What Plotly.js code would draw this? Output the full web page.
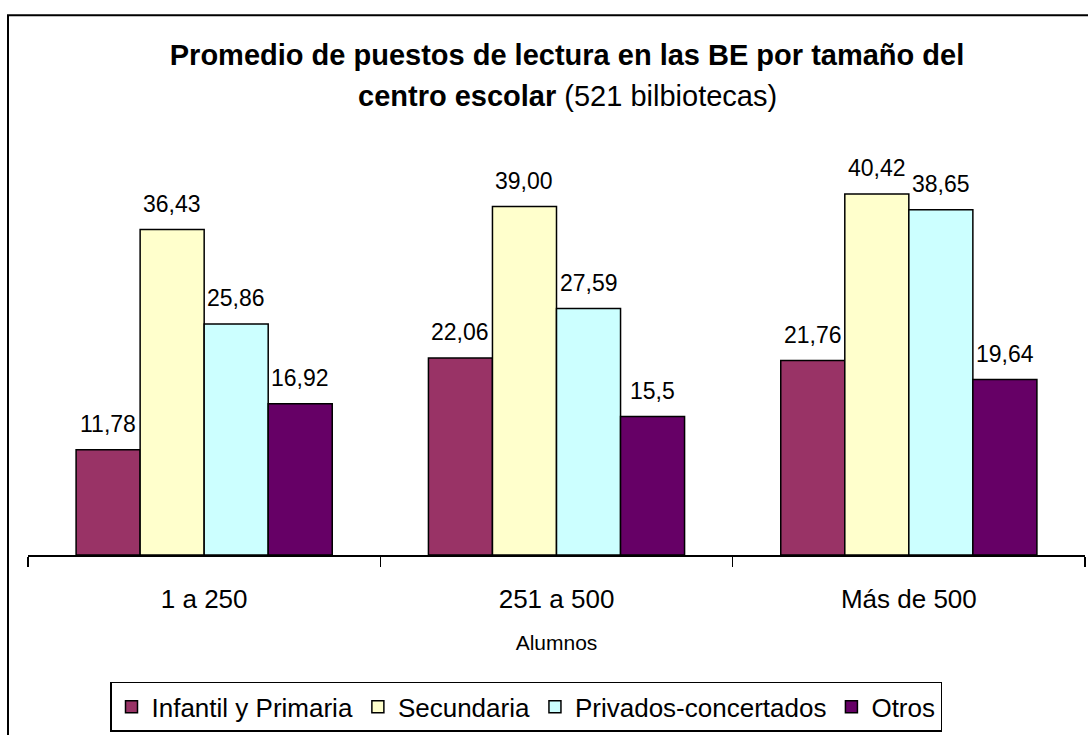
<!DOCTYPE html>
<html>
<head>
<meta charset="utf-8">
<script src="https://cdn.plot.ly/plotly-3.0.1.min.js"></script>
<style>html,body{margin:0;padding:0;background:#fff;}#chart{width:1088px;height:735px;}</style>
</head>
<body>
<div id="chart"></div>
<script>
const categories = ["1 a 250", "251 a 500", "Más de 500"];
const seriesNames = ["Infantil y Primaria", "Secundaria", "Privados-concertados", "Otros"];
const infantil = [11.78, 22.06, 21.76];
const secundaria = [36.43, 39.00, 40.42];
const privados = [25.86, 27.59, 38.65];
const otros = [16.92, 15.5, 19.64];
const labelsInfantil = ["11,78", "22,06", "21,76"];
const labelsSecundaria = ["36,43", "39,00", "40,42"];
const labelsPrivados = ["25,86", "27,59", "38,65"];
const labelsOtros = ["16,92", "15,5", "19,64"];
const colors = ["#993366", "#FFFFCC", "#CCFFFF", "#660066"];

const allValues = [infantil, secundaria, privados, otros];
const allLabels = [labelsInfantil, labelsSecundaria, labelsPrivados, labelsOtros];
const FONT = "Liberation Sans, Arial, sans-serif";

const bargap = 0.273;
const nSeries = allValues.length;
const barW = (1 - bargap) / nSeries;

const traces = allValues.map((vals, s) => ({
  type: "bar",
  name: seriesNames[s],
  x: categories,
  y: vals,
  marker: {color: colors[s], line: {color: "#000", width: 1.5}},
  hoverinfo: "skip"
}));

const annotations = [];
allValues.forEach((vals, s) => {
  vals.forEach((v, i) => {
    annotations.push({
      xref: "x", yref: "y",
      x: i + (s - (nSeries - 1) / 2) * barW,
      y: v,
      text: allLabels[s][i],
      showarrow: false,
      yanchor: "middle",
      yshift: 26,
      font: {family: FONT, size: 23, color: "#000"}
    });
  });
});
annotations.push({
  xref: "paper", yref: "paper",
  x: (567 - 28) / 1057, y: (559 - 95) / 406,
  xanchor: "center", yanchor: "middle",
  text: "<b>centro escolar</b> (521 bilbiotecas)",
  showarrow: false,
  font: {family: FONT, size: 29, color: "#000"}
});

const layout = {
  width: 1088, height: 735,
  paper_bgcolor: "#fff", plot_bgcolor: "#fff",
  margin: {l: 28, r: 3, t: 153, b: 176, pad: 0},
  title: {
    text: "<b>Promedio de puestos de lectura en las BE por tamaño del</b>",
    xref: "paper", x: (567 - 28) / 1057, xanchor: "center",
    yref: "container", y: 1 - 55 / 735, yanchor: "middle",
    font: {family: FONT, size: 29, color: "#000"}
  },
  barmode: "group",
  bargap: bargap,
  bargroupgap: 0,
  showlegend: true,
  legend: {
    orientation: "h",
    x: (526 - 28) / 1057, xanchor: "center",
    y: (559 - 687) / 406, yanchor: "top",
    bordercolor: "#000", borderwidth: 1.5,
    bgcolor: "#fff",
    font: {family: FONT, size: 26, color: "#000"},
    itemwidth: 30,
    traceorder: "normal"
  },
  xaxis: {
    type: "category",
    showline: true, linecolor: "#000", linewidth: 1.5,
    ticks: "outside", tickson: "boundaries", ticklen: 10, tickcolor: "#000", tickwidth: 1.5,
    ticklabelstandoff: 20,
    tickfont: {family: FONT, size: 26, color: "#000"},
    title: {text: "Alumnos", font: {family: FONT, size: 21, color: "#000"}, standoff: 22},
    showgrid: false, zeroline: false, fixedrange: true
  },
  yaxis: {
    range: [0, 45],
    visible: false, showgrid: false, zeroline: false, fixedrange: true
  },
  annotations: annotations,
  shapes: [{
    type: "rect", xref: "paper", yref: "paper",
    x0: (8 - 28) / 1057, x1: 1.05,
    y0: -0.5, y1: (559 - 14) / 406,
    line: {color: "#000", width: 2},
    fillcolor: "rgba(0,0,0,0)",
    layer: "below"
  }],
  font: {family: FONT}
};

Plotly.newPlot("chart", traces, layout, {displayModeBar: false, staticPlot: true});
</script>
</body>
</html>
